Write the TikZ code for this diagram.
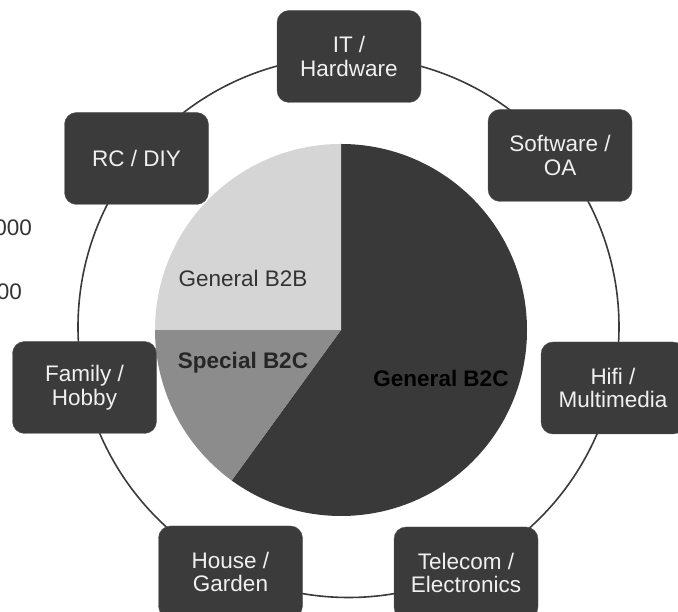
\documentclass[tikz,border=0pt]{standalone}
\usepackage{fontspec}
\setmainfont{Liberation Sans}
\definecolor{boxgray}{HTML}{3B3B3B}
\definecolor{piedark}{HTML}{393939}
\definecolor{piemid}{HTML}{8C8C8C}
\definecolor{pielight}{HTML}{D5D5D5}
\definecolor{ringgray}{HTML}{3A3A3A}

\begin{document}
\begin{tikzpicture}[x=1pt, y=1pt]
	\tikzstyle{branch}=[fill=boxgray, draw=gray!70!black, rounded corners=12pt, minimum width=144pt, minimum height=92pt, text=white!94!black, align=center, inner sep=1pt, font=\fontsize{22.5}{23.5}\selectfont]
	\tikzstyle{slice}=[align=center, inner sep=1pt, font=\fontsize{22.5}{23.5}\selectfont]
	\useasboundingbox (0,0) rectangle (678,612);
	\clip (0,0) rectangle (678,612);

	% ring and pie
	\coordinate (ringc) at (348.5, 285);
	\coordinate (piec) at (341, 282);
	\draw[ringgray, line width=1.6pt] (ringc) circle (270.5);
	\fill[piedark] (piec) -- ++(90:186) arc (90:-126:186) -- cycle;
	\fill[piemid] (piec) -- ++(-126:186) arc (-126:-180:186) -- cycle;
	\fill[pielight] (piec) -- ++(180:186) arc (180:90:186) -- cycle;

	\node[slice, text=black!80] (b2b) at (243, 334) {General B2B};
	\node[slice, text=black!85] (sb2c) at (243, 249) {\textbf{Special B2C}};
	\node[slice, text=black] (gb2c) at (441, 234) {\textbf{General B2C}};

	% cut-off values on the left
	\node[slice, anchor=east, text=black!80] (vala) at (33, 384) {000};
	\node[slice, anchor=east, text=black!80] (valb) at (23, 320) {00};

	% branches
	\node[branch] (it) at (349, 555.5) {IT /\\Hardware};
	\node[branch] (sw) at (560, 456.5) {Software /\\OA};
	\node[branch] (rc) at (136.5, 453.5) {RC / DIY};
	\node[branch] (fam) at (84.5, 224.5) {Family /\\Hobby};
	\node[branch] (hifi) at (613, 224) {Hifi /\\Multimedia};
	\node[branch] (house) at (230.5, 40) {House /\\Garden};
	\node[branch] (tele) at (466, 39) {Telecom /\\Electronics};
\end{tikzpicture}
\end{document}
